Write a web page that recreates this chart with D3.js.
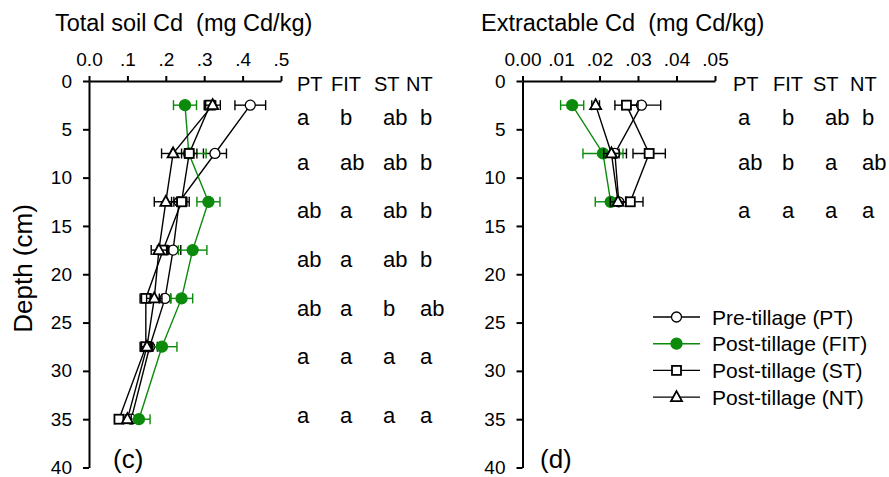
<!DOCTYPE html>
<html>
<head>
<meta charset="utf-8">
<script src="https://cdn.jsdelivr.net/npm/d3@7"></script>
<style>
  body { margin: 0; background: #fff; }
  svg { font-family: "Liberation Sans", Arial, sans-serif; }
</style>
</head>
<body>
<svg id="chart"></svg>
<script>
// sampling depths (cm)
const depthsTotal = [2.5, 7.5, 12.5, 17.5, 22.5, 27.5, 35];
const depthsExtract = [2.5, 7.5, 12.5];

// total soil Cd, mean and error
const totalPT = [0.42, 0.328, 0.235, 0.219, 0.198, 0.158, 0.11];
const totalPTerr = [0.04, 0.03, 0.02, 0.02, 0.015, 0.02, 0.015];
const totalFIT = [0.25, 0.26, 0.311, 0.27, 0.241, 0.19, 0.13];
const totalFITerr = [0.03, 0.045, 0.03, 0.037, 0.029, 0.039, 0.029];
const totalST = [0.315, 0.261, 0.241, 0.193, 0.148, 0.148, 0.078];
const totalSTerr = [0.015, 0.02, 0.02, 0.015, 0.015, 0.015, 0.01];
const totalNT = [0.322, 0.219, 0.200, 0.182, 0.17, 0.151, 0.10];
const totalNTerr = [0.02, 0.03, 0.03, 0.02, 0.02, 0.015, 0.01];

// extractable Cd, mean and error
const extPT = [0.0309, 0.024, 0.025];
const extPTerr = [0.005, 0.003, 0.002];
const extFIT = [0.0129, 0.0209, 0.0229];
const extFITerr = [0.003, 0.0052, 0.004];
const extST = [0.027, 0.0329, 0.028];
const extSTerr = [0.003, 0.0042, 0.0033];
const extNT = [0.019, 0.0231, 0.0248];
const extNTerr = [0.001, 0.002, 0.002];

// significance letters
const letterHeads = ["PT", "FIT", "ST", "NT"];
const letterDepths = [3.8, 8.5, 13.5, 18.5, 23.6, 28.6, 34.7];
const lettersTotal = [
  ["a", "b", "ab", "b"],
  ["a", "ab", "ab", "b"],
  ["ab", "a", "ab", "b"],
  ["ab", "a", "ab", "b"],
  ["ab", "a", "b", "ab"],
  ["a", "a", "a", "a"],
  ["a", "a", "a", "a"]
];
const lettersExtract = [
  ["a", "b", "ab", "b"],
  ["ab", "b", "a", "ab"],
  ["a", "a", "a", "a"]
];

// axis ticks
const depthTicks = [0, 5, 10, 15, 20, 25, 30, 35, 40];
const totalTicks = [0, 0.1, 0.2, 0.3, 0.4, 0.5];
const totalTickLabels = ["0.0", ".1", ".2", ".3", ".4", ".5"];
const extTicks = [0, 0.01, 0.02, 0.03, 0.04, 0.05];
const extTickLabels = ["0.00", ".01", ".02", ".03", ".04", ".05"];

const seriesNames = ["Pre-tillage (PT)", "Post-tillage (FIT)", "Post-tillage (ST)", "Post-tillage (NT)"];

const width = 889, height = 477;
const green = "#0b8a0b";

const svg = d3.select("#chart")
  .attr("width", width)
  .attr("height", height);

const yScale = d3.scaleLinear().domain([0, 40]).range([81, 467.5]);

const styles = [
  { shape: "circle", fill: "#fff", stroke: "#000" },
  { shape: "circle", fill: green, stroke: green },
  { shape: "square", fill: "#fff", stroke: "#000" },
  { shape: "triangle", fill: "#fff", stroke: "#000" }
];

function drawMarker(g, x, y, st) {
  if (st.shape === "circle") {
    g.append("circle")
      .attr("cx", x).attr("cy", y)
      .attr("r", st.fill === "#fff" ? 5 : 5.5)
      .attr("fill", st.fill).attr("stroke", st.stroke).attr("stroke-width", 1.3);
  } else if (st.shape === "square") {
    g.append("rect")
      .attr("x", x - 4.5).attr("y", y - 4.5)
      .attr("width", 9).attr("height", 9)
      .attr("fill", st.fill).attr("stroke", st.stroke).attr("stroke-width", 1.8);
  } else {
    g.append("path")
      .attr("d", `M${x},${y - 6}L${x + 5.5},${y + 4}L${x - 5.5},${y + 4}Z`)
      .attr("fill", st.fill).attr("stroke", st.stroke).attr("stroke-width", 1.8);
  }
}

function drawPanel(opts) {
  const xScale = d3.scaleLinear().domain(opts.domain).range(opts.range);
  const g = svg.append("g");

  // x axis on top
  const xAxis = g.append("g")
    .attr("transform", `translate(0, ${yScale(0)})`)
    .call(d3.axisTop(xScale)
      .tickValues(opts.ticks)
      .tickFormat((d, i) => opts.tickLabels[i])
      .tickSize(5).tickSizeOuter(0).tickPadding(10));
  xAxis.selectAll("path, line").attr("stroke", "#000").attr("stroke-width", 2);
  xAxis.selectAll("text").attr("font-size", "19px").attr("fill", "#000")
    .attr("font-family", "Liberation Sans, Arial, sans-serif");

  // y axis on left
  const yAxis = g.append("g")
    .attr("transform", `translate(${opts.range[0]}, 0)`)
    .call(d3.axisLeft(yScale)
      .tickValues(depthTicks)
      .tickSize(6).tickSizeOuter(0).tickPadding(11));
  yAxis.selectAll("path, line").attr("stroke", "#000").attr("stroke-width", 2);
  yAxis.selectAll("text").attr("font-size", "19px").attr("fill", "#000")
    .attr("font-family", "Liberation Sans, Arial, sans-serif");

  // title
  g.append("text")
    .attr("x", opts.titleX).attr("y", 31)
    .attr("font-size", "23.5px")
    .attr("xml:space", "preserve")
    .style("white-space", "pre")
    .text(opts.title);

  // series
  opts.series.forEach((s, si) => {
    const st = styles[si];
    const color = st.stroke;
    const pts = opts.depths.map((d, i) => [xScale(s.mean[i]), yScale(d)]);
    g.append("path")
      .attr("d", d3.line()(pts))
      .attr("fill", "none")
      .attr("stroke", color)
      .attr("stroke-width", 1.4);

    opts.depths.forEach((d, i) => {
      const y = yScale(d);
      const x0 = xScale(s.mean[i] - s.err[i]);
      const x1 = xScale(s.mean[i] + s.err[i]);
      g.append("line")
        .attr("x1", x0).attr("x2", x1).attr("y1", y).attr("y2", y)
        .attr("stroke", color).attr("stroke-width", 1.4);
      [x0, x1].forEach(xc => {
        g.append("line")
          .attr("x1", xc).attr("x2", xc).attr("y1", y - 5).attr("y2", y + 5)
          .attr("stroke", color).attr("stroke-width", 1.4);
      });
    });
    opts.depths.forEach((d, i) => {
      drawMarker(g, xScale(s.mean[i]), yScale(d), st);
    });
  });

  // letter table
  letterHeads.forEach((h, j) => {
    g.append("text")
      .attr("x", opts.headX[j]).attr("y", 91)
      .attr("font-size", "20px")
      .text(h);
  });
  opts.letters.forEach((row, i) => {
    row.forEach((l, j) => {
      g.append("text")
        .attr("x", opts.colX[j])
        .attr("y", yScale(letterDepths[i]) + 7)
        .attr("font-size", "22px")
        .text(l);
    });
  });

  // panel label
  g.append("text")
    .attr("x", opts.labelX).attr("y", 468)
    .attr("font-size", "26px")
    .text(opts.label);

  return xScale;
}

drawPanel({
  domain: [0, 0.5], range: [89, 281],
  ticks: totalTicks, tickLabels: totalTickLabels,
  title: "Total soil Cd  (mg Cd/kg)", titleX: 55,
  depths: depthsTotal,
  series: [
    { mean: totalPT, err: totalPTerr },
    { mean: totalFIT, err: totalFITerr },
    { mean: totalST, err: totalSTerr },
    { mean: totalNT, err: totalNTerr }
  ],
  letters: lettersTotal,
  headX: [297, 331, 374, 406],
  colX: [297, 340, 383, 420],
  label: "(c)", labelX: 113
});

drawPanel({
  domain: [0, 0.05], range: [522.5, 715],
  ticks: extTicks, tickLabels: extTickLabels,
  title: "Extractable Cd  (mg Cd/kg)", titleX: 481,
  depths: depthsExtract,
  series: [
    { mean: extPT, err: extPTerr },
    { mean: extFIT, err: extFITerr },
    { mean: extST, err: extSTerr },
    { mean: extNT, err: extNTerr }
  ],
  letters: lettersExtract,
  headX: [733, 773, 813, 850],
  colX: [738, 782, 825, 862],
  label: "(d)", labelX: 540
});

// y title
svg.append("text")
  .attr("transform", `translate(32, ${yScale(19.4)}) rotate(-90)`)
  .attr("text-anchor", "middle")
  .attr("font-size", "26px")
  .text("Depth (cm)");

// legend
const legend = svg.append("g").attr("transform", "translate(653, 317)");
seriesNames.forEach((name, i) => {
  const row = legend.append("g").attr("transform", `translate(0, ${i * 26.7})`);
  const st = styles[i];
  row.append("line")
    .attr("x1", 0).attr("x2", 47).attr("y1", 0).attr("y2", 0)
    .attr("stroke", st.stroke).attr("stroke-width", 1.4);
  drawMarker(row, 23.5, 0, st);
  row.append("text")
    .attr("x", 59).attr("y", 7.5)
    .attr("font-size", "21px")
    .text(name);
});
</script>
</body>
</html>
